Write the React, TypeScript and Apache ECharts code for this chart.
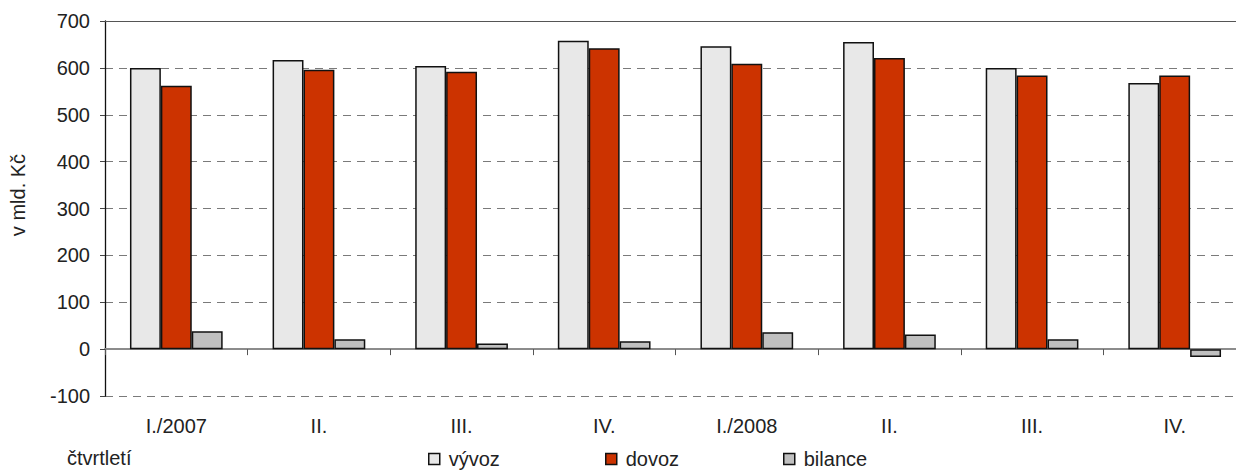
import React, { useEffect, useRef } from "react";
import * as echarts from "echarts";

const categories = ["I./2007", "II.", "III.", "IV.", "I./2008", "II.", "III.", "IV."];
const vyvoz = [600, 617, 604, 658, 646, 655, 600, 568];
const dovoz = [562, 596, 592, 642, 609, 621, 584, 584];
const bilance = [38, 21, 12, 17, 36, 31, 21, -17];
const seriesNames = ["vývoz", "dovoz", "bilance"];
const yAxisName = "v mld. Kč";
const xAxisName = "čtvrtletí";

const FONT = "'Liberation Sans', Arial, sans-serif";
const TXT = "#222";

export default function App() {
  const ref = useRef<HTMLDivElement>(null);
  useEffect(() => {
    if (!ref.current) return;
    const chart = echarts.init(ref.current, undefined, { renderer: "svg" });
    const barStyle = (color: string) => ({
      color,
      borderColor: "#111",
      borderWidth: 1.5,
    });
    const legendCommon = {
      top: 443,
      itemWidth: 11,
      itemHeight: 11,
      icon: "rect",
      textStyle: { fontFamily: FONT, fontSize: 20, lineHeight: 22, color: TXT, padding: [0, 0, 0, 4] },
    };
    chart.setOption({
      animation: false,
      textStyle: { fontFamily: FONT },
      grid: {
        left: 105,
        right: -10,
        top: 21,
        bottom: 74,
        containLabel: false,
        outerBoundsMode: "none",
      },
      legend: [
        { ...legendCommon, left: 423, data: [{ name: seriesNames[0], itemStyle: { borderColor: "#111", borderWidth: 1.5 } }] },
        { ...legendCommon, left: 600, data: [{ name: seriesNames[1], itemStyle: { borderColor: "#111", borderWidth: 1.5 } }] },
        { ...legendCommon, left: 778, data: [{ name: seriesNames[2], itemStyle: { borderColor: "#111", borderWidth: 1.5 } }] },
      ],
      xAxis: {
        type: "category",
        data: categories,
        axisLine: { show: true, onZero: true, lineStyle: { color: "#8c8c8c", width: 2 } },
        axisTick: { show: true, length: 6, lineStyle: { color: "#555", width: 1 } },
        axisLabel: { margin: 20, fontSize: 20, color: TXT, fontFamily: FONT, interval: 0 },
        splitLine: { show: false },
      },
      yAxis: {
        type: "value",
        min: -100,
        max: 700,
        interval: 100,
        axisLine: { show: true, lineStyle: { color: "#111", width: 1.3 } },
        axisTick: { show: true, length: 5, lineStyle: { color: "#444" } },
        axisLabel: { margin: 15, fontSize: 20, color: TXT, fontFamily: FONT },
        splitLine: { show: true, lineStyle: { color: "#7a7a7a", type: [8, 6], width: 1 } },
      },
      graphic: [
        {
          type: "text",
          x: 18,
          y: 195,
          rotation: Math.PI / 2,
          style: {
            text: yAxisName,
            fontSize: 20,
            fontFamily: FONT,
            fill: TXT,
            align: "center",
            verticalAlign: "middle",
          },
        },
        {
          type: "text",
          x: 67,
          y: 448,
          style: {
            text: xAxisName,
            fontSize: 20,
            fontFamily: FONT,
            fill: TXT,
            align: "left",
            verticalAlign: "top",
          },
        },
      ],
      series: [
        {
          name: seriesNames[0],
          type: "bar",
          data: vyvoz,
          barGap: "0%",
          barCategoryGap: "35%",
          itemStyle: barStyle("#e8e8e8"),
          markLine: {
            silent: true,
            symbol: "none",
            label: { show: false },
            lineStyle: { color: "#555", type: "solid", width: 1 },
            data: [{ yAxis: 700 }],
          },
        },
        {
          name: seriesNames[1],
          type: "bar",
          data: dovoz,
          barGap: "0%",
          barCategoryGap: "35%",
          itemStyle: barStyle("#cc3300"),
        },
        {
          name: seriesNames[2],
          type: "bar",
          data: bilance,
          barGap: "0%",
          barCategoryGap: "35%",
          itemStyle: barStyle("#c0c0c0"),
        },
      ],
    });
    return () => chart.dispose();
  }, []);
  return (
    <div
      ref={ref}
      style={{ position: "absolute", left: 0, top: 0, width: 1236, height: 470 }}
    />
  );
}
